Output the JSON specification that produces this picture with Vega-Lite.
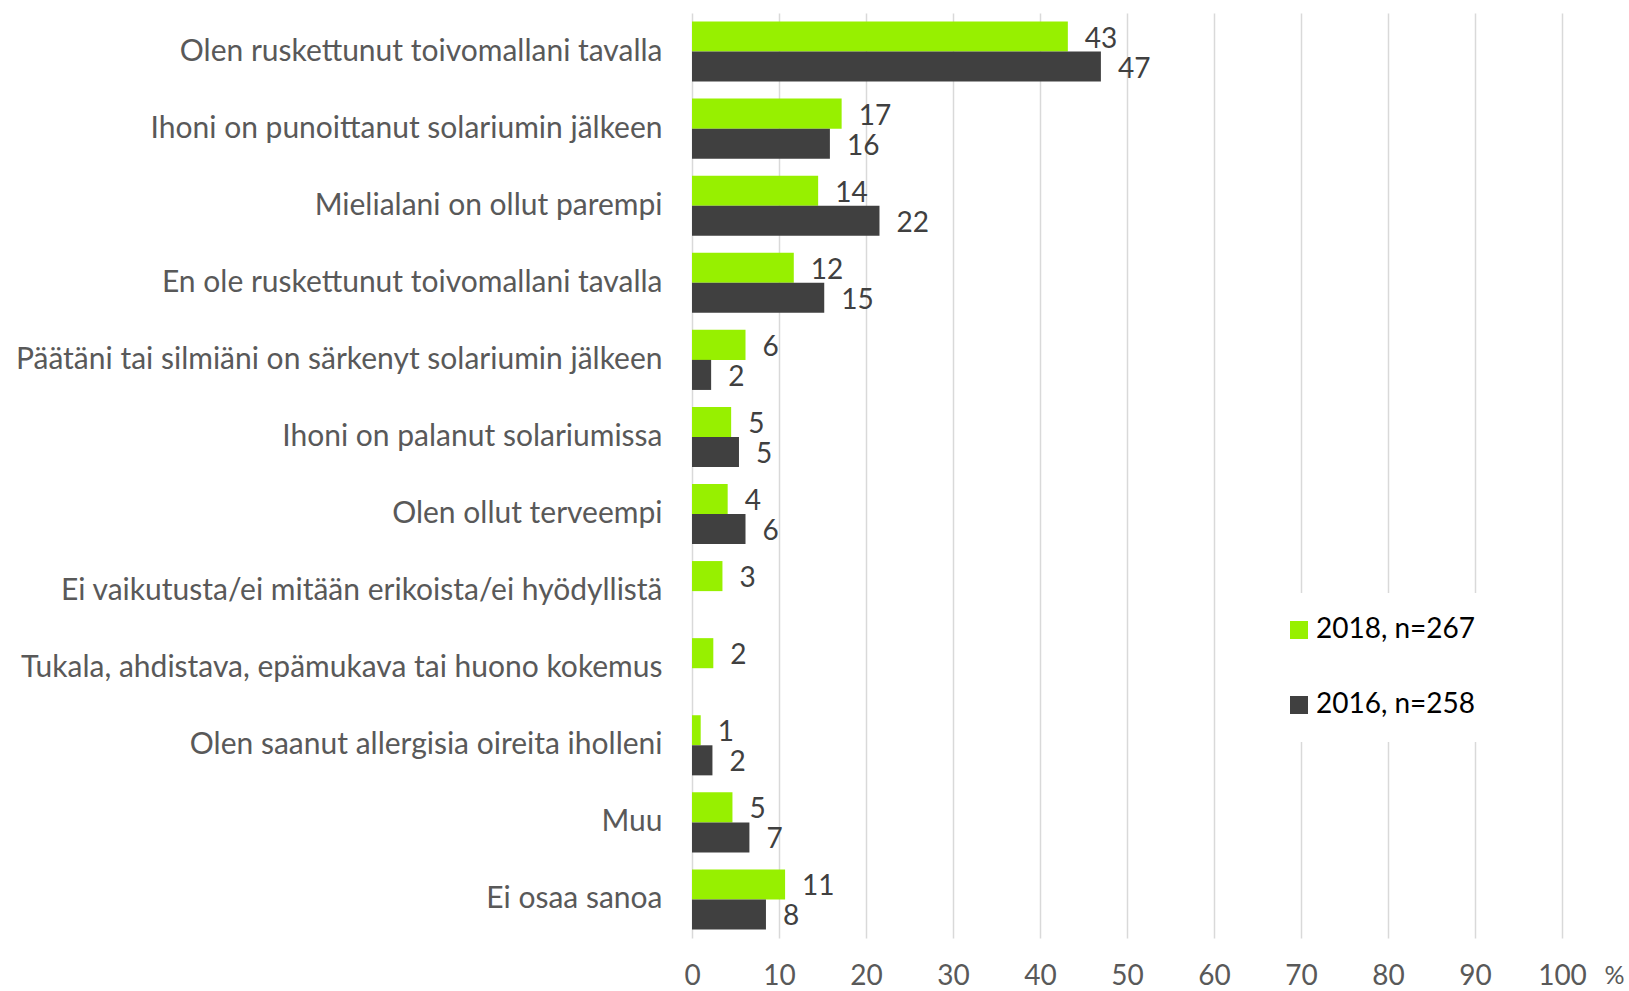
{
  "$schema": "https://vega.github.io/schema/vega-lite/v6.json",
  "width": 870,
  "height": 925,
  "autosize": {"type": "none"},
  "padding": {"left": 692, "top": 13, "right": 67, "bottom": 53},
  "background": "white",
  "config": {"view": {"stroke": null}, "font": "Lato"},
  "data": {
    "values": [
      {"category": "Olen ruskettunut toivomallani tavalla", "year": "2018, n=267", "value": 43.2, "label": "43"},
      {"category": "Olen ruskettunut toivomallani tavalla", "year": "2016, n=258", "value": 47.0, "label": "47"},
      {"category": "Ihoni on punoittanut solariumin jälkeen", "year": "2018, n=267", "value": 17.2, "label": "17"},
      {"category": "Ihoni on punoittanut solariumin jälkeen", "year": "2016, n=258", "value": 15.85, "label": "16"},
      {"category": "Mielialani on ollut parempi", "year": "2018, n=267", "value": 14.5, "label": "14"},
      {"category": "Mielialani on ollut parempi", "year": "2016, n=258", "value": 21.55, "label": "22"},
      {"category": "En ole ruskettunut toivomallani tavalla", "year": "2018, n=267", "value": 11.7, "label": "12"},
      {"category": "En ole ruskettunut toivomallani tavalla", "year": "2016, n=258", "value": 15.2, "label": "15"},
      {"category": "Päätäni tai silmiäni on särkenyt solariumin jälkeen", "year": "2018, n=267", "value": 6.15, "label": "6"},
      {"category": "Päätäni tai silmiäni on särkenyt solariumin jälkeen", "year": "2016, n=258", "value": 2.2, "label": "2"},
      {"category": "Ihoni on palanut solariumissa", "year": "2018, n=267", "value": 4.5, "label": "5"},
      {"category": "Ihoni on palanut solariumissa", "year": "2016, n=258", "value": 5.4, "label": "5"},
      {"category": "Olen ollut terveempi", "year": "2018, n=267", "value": 4.1, "label": "4"},
      {"category": "Olen ollut terveempi", "year": "2016, n=258", "value": 6.15, "label": "6"},
      {"category": "Ei vaikutusta/ei mitään erikoista/ei hyödyllistä", "year": "2018, n=267", "value": 3.5, "label": "3"},
      {"category": "Tukala, ahdistava, epämukava tai huono kokemus", "year": "2018, n=267", "value": 2.45, "label": "2"},
      {"category": "Olen saanut allergisia oireita iholleni", "year": "2018, n=267", "value": 1.0, "label": "1"},
      {"category": "Olen saanut allergisia oireita iholleni", "year": "2016, n=258", "value": 2.35, "label": "2"},
      {"category": "Muu", "year": "2018, n=267", "value": 4.65, "label": "5"},
      {"category": "Muu", "year": "2016, n=258", "value": 6.6, "label": "7"},
      {"category": "Ei osaa sanoa", "year": "2018, n=267", "value": 10.7, "label": "11"},
      {"category": "Ei osaa sanoa", "year": "2016, n=258", "value": 8.5, "label": "8"}
    ]
  },
  "encoding": {
    "y": {
      "field": "category",
      "type": "nominal",
      "sort": [
        "Olen ruskettunut toivomallani tavalla",
        "Ihoni on punoittanut solariumin jälkeen",
        "Mielialani on ollut parempi",
        "En ole ruskettunut toivomallani tavalla",
        "Päätäni tai silmiäni on särkenyt solariumin jälkeen",
        "Ihoni on palanut solariumissa",
        "Olen ollut terveempi",
        "Ei vaikutusta/ei mitään erikoista/ei hyödyllistä",
        "Tukala, ahdistava, epämukava tai huono kokemus",
        "Olen saanut allergisia oireita iholleni",
        "Muu",
        "Ei osaa sanoa"
      ],
      "scale": {"paddingInner": 0.22, "paddingOuter": 0.11},
      "axis": {
        "title": null,
        "domain": false,
        "ticks": false,
        "labelFont": "Lato",
        "labelFontSize": 30,
        "labelColor": "#595959",
        "labelPadding": 30,
        "labelLimit": 900
      }
    },
    "yOffset": {"field": "year", "type": "nominal", "sort": ["2018, n=267", "2016, n=258"]},
    "x": {
      "field": "value",
      "type": "quantitative",
      "scale": {"domain": [0, 100]},
      "axis": {
        "values": [0, 10, 20, 30, 40, 50, 60, 70, 80, 90, 100],
        "grid": true,
        "gridColor": "#D9D9D9",
        "gridWidth": 1.5,
        "domain": false,
        "ticks": false,
        "labelFlush": false,
        "labelFont": "Lato",
        "labelFontSize": 28,
        "labelColor": "#595959",
        "labelBaseline": "middle",
        "labelPadding": 38,
        "title": "%",
        "titleFont": "Lato",
        "titleFontSize": 25,
        "titleFontWeight": "normal",
        "titleColor": "#595959",
        "titleX": 922,
        "titleY": 37,
        "titleAlign": "center",
        "titleBaseline": "middle"
      }
    }
  },
  "layer": [
    {
      "mark": {"type": "bar"},
      "encoding": {
        "color": {
          "field": "year",
          "type": "nominal",
          "scale": {"domain": ["2018, n=267", "2016, n=258"], "range": ["#97F000", "#404040"]},
          "legend": {
            "title": null,
            "orient": "none",
            "legendX": 570,
            "legendY": 580,
            "symbolType": "square",
            "symbolSize": 324,
            "symbolStrokeWidth": 0,
            "symbolOpacity": 1,
            "labelFont": "Lato",
            "labelFontSize": 28,
            "labelColor": "#000000",
            "labelOffset": 3,
            "rowPadding": 47,
            "padding": 23,
            "fillColor": "white",
            "strokeColor": null
          }
        }
      }
    },
    {
      "mark": {"type": "text", "align": "left", "baseline": "middle", "dx": 17, "dy": 3, "font": "Lato", "fontSize": 28, "color": "#404040"},
      "encoding": {"text": {"field": "label", "type": "nominal"}}
    }
  ]
}
